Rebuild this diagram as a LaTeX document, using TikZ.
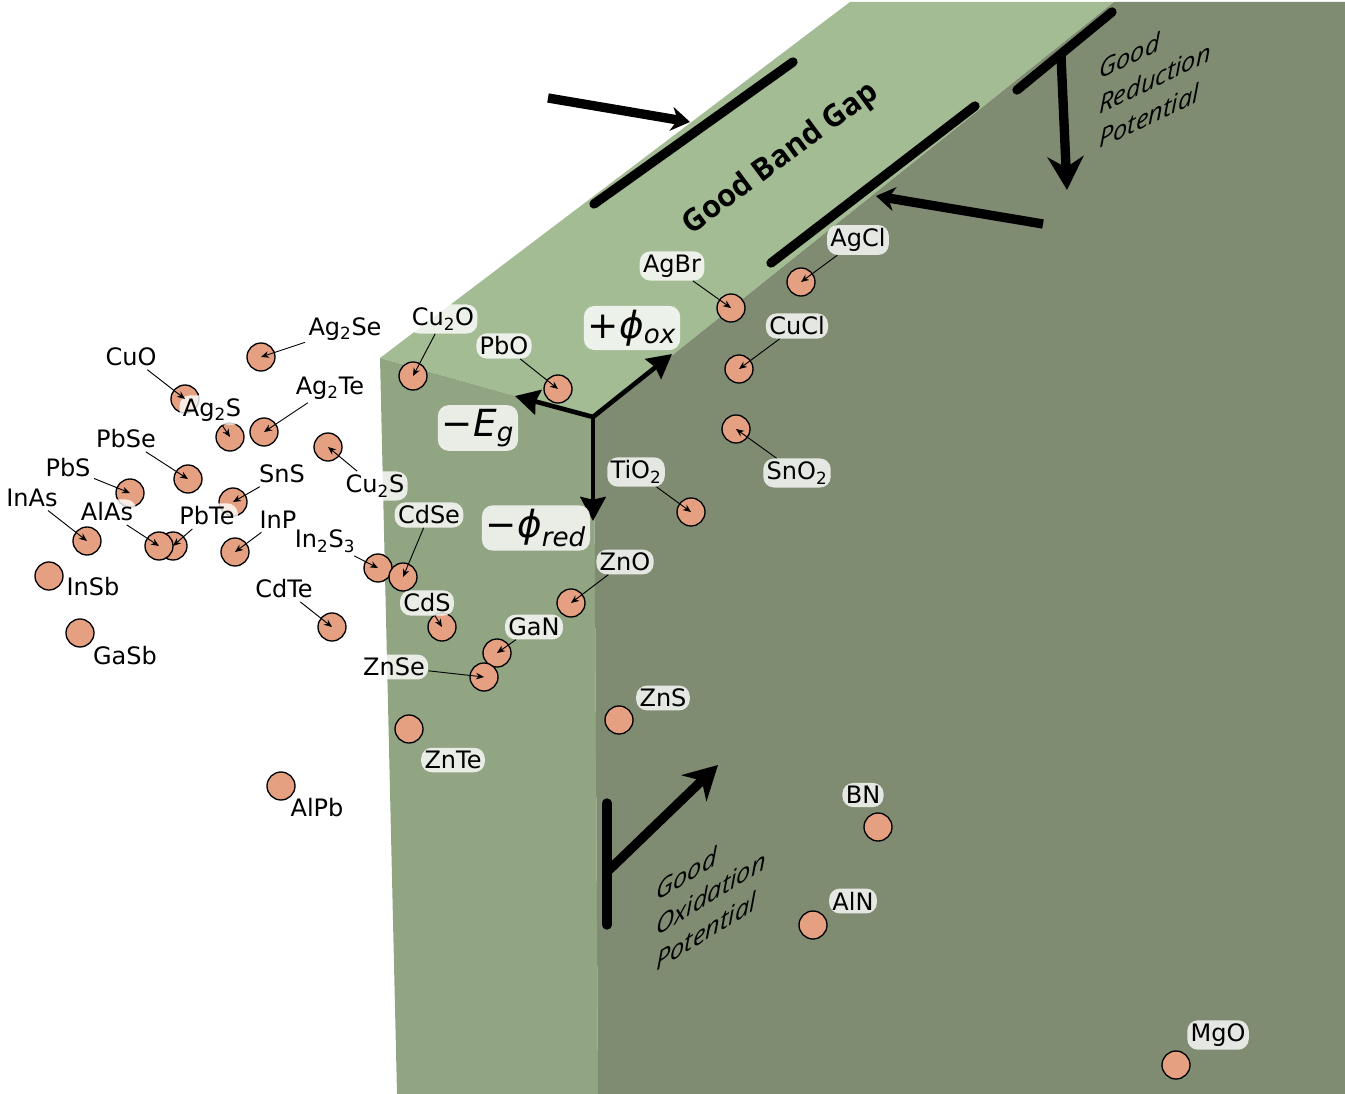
\documentclass[tikz,border=0pt]{standalone}
\usepackage{fontspec}
\setmainfont{DejaVu Sans}
\newfontfamily\opensans{Open Sans}
\usepackage{tikz}
\usetikzlibrary{arrows.meta}
\definecolor{topface}{HTML}{A3BC94}
\definecolor{leftface}{HTML}{91A583}
\definecolor{rightface}{HTML}{7F8C72}
\definecolor{dot}{HTML}{E5A081}
\tikzset{ chem/.style = {circle, draw=black, line width=1pt, fill=dot, minimum size=21pt, inner sep=0pt} }
\tikzset{ tag/.style = {fill=white, fill opacity=0.8, text opacity=1, rounded corners=8pt, inner sep=2.5pt, font=\fontsize{18}{20}\selectfont} }
\tikzset{ bigtag/.style = {tag, inner sep=3pt, font=\fontsize{28}{30}\selectfont} }
\tikzset{ lead/.style = {-{Stealth[length=6pt,width=5pt]}, line width=0.7pt} }
\tikzset{ bar/.style = {line width=7pt, line cap=round} }
\tikzset{ bigarrow/.style = {line width=7pt, -{Stealth[length=14pt,width=18pt]}} }
\tikzset{ tarrow/.style = {line width=7pt, -{Stealth[length=25pt,width=27pt]}} }
\tikzset{ axis/.style = {line width=3.5pt, -{Stealth[length=18pt,width=19pt,inset=2pt]}} }
\tikzset{ note/.style = {font=\opensans\itshape\fontsize{19}{26}\selectfont, align=left} }

\begin{document}
\begin{tikzpicture}[x=0.75pt,y=-0.75pt]
\useasboundingbox (0,0) rectangle (1345,1094);
% the block
\fill[topface] (380,358) -- (850,2) -- (1114,2) -- (594,418) -- cycle;
\fill[leftface] (380,358) -- (594,418) -- (598,1094) -- (397,1094) -- cycle;
\fill[rightface] (594,418) -- (1114,2) -- (1345,2) -- (1345,1094) -- (598,1094) -- cycle;

% band gap
\draw[bar] (594,204) -- (793,62);
\draw[bar] (771,263) -- (975,106);
\coordinate (bgA) at (548,98);
\coordinate (bgAend) at (690,122);
\coordinate (bgB) at (1043,224);
\coordinate (bgBend) at (876,196);
\draw[bigarrow] (bgA) -- (bgAend);
\draw[bigarrow] (bgB) -- (bgBend);
\node[rotate=36.5, font=\opensans\bfseries\fontsize{23}{26}\selectfont] (gap) at (781,159) {Good Band Gap};

% reduction
\draw[bar] (1017,90) -- (1112,12);
\coordinate (redA) at (1061,55);
\coordinate (redB) at (1067,190);
\draw[tarrow] (redA) -- (redB);
\node[note, yslant=0.48] (red) at (1155,78) {Good\\Reduction\\Potential};

% oxidation
\draw[bar] (607,803) -- (607,925);
\coordinate (oxA) at (609,870);
\coordinate (oxB) at (718,765);
\draw[tarrow] (oxA) -- (oxB);
\node[note, yslant=0.62] (oxi) at (711,893) {Good\\Oxidation\\Potential};

% axes
\coordinate (o) at (593,417);
\coordinate (oxend) at (672,354);
\coordinate (egend) at (515,396);
\coordinate (redend) at (593,521);
\draw[axis] (o) -- (oxend);
\draw[axis] (o) -- (egend);
\draw[axis] (o) -- (redend);
\node[bigtag] (phiox) at (632,328) {+\textit{ϕ}\textsubscript{\textit{ox}}};
\node[bigtag] (eg) at (478,428) {−\textit{E}\textsubscript{\textit{g}}};
\node[bigtag] (phired) at (536,528) {−\textit{ϕ}\textsubscript{\textit{red}}};

% materials
\node[chem] (Ag2Se) at (261,357) {};
\node[chem] (CuO) at (185,399) {};
\node[chem] (Ag2S) at (230,437) {};
\node[chem] (Ag2Te) at (264,432) {};
\node[chem] (PbSe) at (188,479) {};
\node[chem] (PbS) at (130,493) {};
\node[chem] (InAs) at (87,541) {};
\node[chem] (PbTe) at (173,546) {};
\node[chem] (AlAs) at (159,546) {};
\node[chem] (SnS) at (233,502) {};
\node[chem] (Cu2S) at (328,447) {};
\node[chem] (InP) at (235,552) {};
\node[chem] (In2S3) at (378,568) {};
\node[chem] (CdSe) at (403,577) {};
\node[chem] (InSb) at (49,576) {};
\node[chem] (GaSb) at (80,633) {};
\node[chem] (CdTe) at (332,627) {};
\node[chem] (CdS) at (442,627) {};
\node[chem] (Cu2O) at (413,376) {};
\node[chem] (PbO) at (558,389) {};
\node[chem] (AgBr) at (731,308) {};
\node[chem] (AgCl) at (801,282) {};
\node[chem] (CuCl) at (739,369) {};
\node[chem] (SnO2) at (736,429) {};
\node[chem] (TiO2) at (691,512) {};
\node[chem] (ZnO) at (571,603) {};
\node[chem] (GaN) at (497,653) {};
\node[chem] (ZnSe) at (484,677) {};
\node[chem] (ZnTe) at (409,729) {};
\node[chem] (ZnS) at (619,720) {};
\node[chem] (BN) at (878,827) {};
\node[chem] (AlN) at (813,925) {};
\node[chem] (MgO) at (1176,1065) {};
\node[chem] (AlPb) at (281,786) {};

% labels
\node[tag] (Ag2Se-l) at (345,329) {Ag\textsubscript{2}Se};
\node[tag] (CuO-l) at (131,357) {CuO};
\node[tag] (Ag2S-l) at (212,410) {Ag\textsubscript{2}S};
\node[tag] (Ag2Te-l) at (330,388) {Ag\textsubscript{2}Te};
\node[tag] (PbSe-l) at (126,439) {PbSe};
\node[tag] (PbS-l) at (68,468) {PbS};
\node[tag] (InAs-l) at (32,498) {InAs};
\node[tag] (AlAs-l) at (107,512) {AlAs};
\node[tag] (PbTe-l) at (207,516) {PbTe};
\node[tag] (SnS-l) at (282,474) {SnS};
\node[tag] (Cu2S-l) at (375,486) {Cu\textsubscript{2}S};
\node[tag] (InP-l) at (278,520) {InP};
\node[tag] (In2S3-l) at (325,541) {In\textsubscript{2}S\textsubscript{3}};
\node[tag] (CdSe-l) at (429,515) {CdSe};
\node[tag] (InSb-l) at (93,587) {InSb};
\node[tag] (GaSb-l) at (125,656) {GaSb};
\node[tag] (CdTe-l) at (284,589) {CdTe};
\node[tag] (CdS-l) at (427,603) {CdS};
\node[tag] (Cu2O-l) at (443,319) {Cu\textsubscript{2}O};
\node[tag] (PbO-l) at (504,346) {PbO};
\node[tag] (AgBr-l) at (672,266) {AgBr};
\node[tag] (AgCl-l) at (858,240) {AgCl};
\node[tag] (CuCl-l) at (797,326) {CuCl};
\node[tag] (SnO2-l) at (797,473) {SnO\textsubscript{2}};
\node[tag] (TiO2-l) at (636,472) {TiO\textsubscript{2}};
\node[tag] (ZnO-l) at (625,562) {ZnO};
\node[tag] (GaN-l) at (534,627) {GaN};
\node[tag] (ZnSe-l) at (394,667) {ZnSe};
\node[tag] (ZnTe-l) at (453,760) {ZnTe};
\node[tag] (ZnS-l) at (663,698) {ZnS};
\node[tag] (BN-l) at (863,795) {BN};
\node[tag] (AlN-l) at (853,901) {AlN};
\node[tag] (MgO-l) at (1218,1035) {MgO};
\node[tag] (AlPb-l) at (317,808) {AlPb};

% leaders
\draw[lead] (Ag2Se-l) -- (Ag2Se.center);
\draw[lead] (CuO-l) -- (CuO.center);
\draw[lead] (Ag2S-l) -- (Ag2S.center);
\draw[lead] (Ag2Te-l) -- (Ag2Te.center);
\draw[lead] (PbSe-l) -- (PbSe.center);
\draw[lead] (PbS-l) -- (PbS.center);
\draw[lead] (InAs-l) -- (InAs.center);
\draw[lead] (AlAs-l) -- (AlAs.center);
\draw[lead] (PbTe-l) -- (PbTe.center);
\draw[lead] (SnS-l) -- (SnS.center);
\draw[lead] (Cu2S-l) -- (Cu2S.center);
\draw[lead] (InP-l) -- (InP.center);
\draw[lead] (In2S3-l) -- (In2S3.center);
\draw[lead] (CdSe-l) -- (CdSe.center);
\draw[lead] (CdTe-l) -- (CdTe.center);
\draw[lead] (CdS-l) -- (CdS.center);
\draw[lead] (Cu2O-l) -- (Cu2O.center);
\draw[lead] (PbO-l) -- (PbO.center);
\draw[lead] (AgBr-l) -- (AgBr.center);
\draw[lead] (AgCl-l) -- (AgCl.center);
\draw[lead] (CuCl-l) -- (CuCl.center);
\draw[lead] (SnO2-l) -- (SnO2.center);
\draw[lead] (TiO2-l) -- (TiO2.center);
\draw[lead] (ZnO-l) -- (ZnO.center);
\draw[lead] (GaN-l) -- (GaN.center);
\draw[lead] (ZnSe-l) -- (ZnSe.center);
\end{tikzpicture}
\end{document}
